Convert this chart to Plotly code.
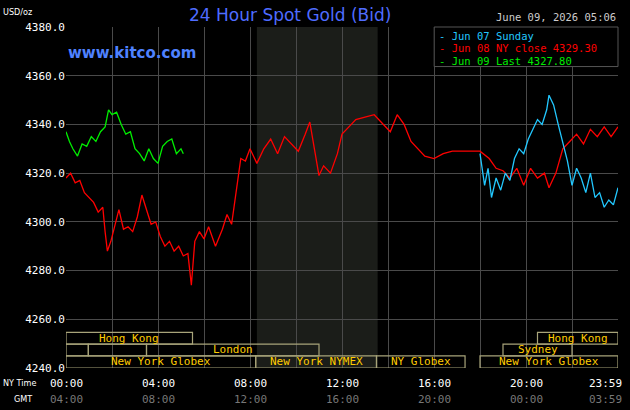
import plotly.graph_objects as go

# Jun 08 NY close (red), hours NY time
red_t = [0, 0.2, 0.4, 0.6, 0.8, 1.0, 1.2, 1.4, 1.6, 1.7, 1.8, 1.95, 2.1, 2.3, 2.5, 2.7, 2.9, 3.1, 3.3, 3.5, 3.7, 3.9,
         4.1, 4.3, 4.5, 4.7, 4.9, 5.1, 5.3, 5.45, 5.6, 5.8, 6.0, 6.2, 6.5, 6.8, 7.0, 7.2, 7.4, 7.6, 7.8, 8.0, 8.3,
         8.6, 8.9, 9.2, 9.5, 9.8, 10.1, 10.4, 10.6, 10.8, 11.0, 11.2, 11.5, 11.8, 12.0, 12.3, 12.6, 13.0, 13.4,
         13.8, 14.1, 14.4, 14.7, 15.0, 15.3, 15.6, 16.0, 16.4, 16.8, 17.2, 17.6, 18.0, 18.4, 18.7, 19.0, 19.3,
         19.6, 19.9, 20.2, 20.5, 20.8, 21.0, 21.3, 21.6, 21.9, 22.2, 22.5, 22.8, 23.1, 23.4, 23.7, 24.0]
red_v = [4318, 4320, 4316, 4317, 4312, 4310, 4308, 4304, 4306, 4296, 4288, 4292, 4298, 4305, 4297, 4298, 4296,
         4302, 4311, 4305, 4299, 4300, 4294, 4290, 4292, 4288, 4290, 4286, 4287, 4274, 4292, 4296, 4293, 4298,
         4290, 4297, 4303, 4299, 4312, 4326, 4325, 4330, 4324, 4330, 4334, 4328, 4335, 4332, 4329, 4336, 4341,
         4330, 4319, 4323, 4320, 4328, 4336, 4339, 4342, 4343, 4344, 4340, 4337, 4344, 4340, 4333, 4330, 4327,
         4326, 4328, 4329, 4329, 4329, 4329, 4326, 4322, 4321, 4318, 4322, 4315, 4322, 4318, 4320, 4314, 4320,
         4330, 4333, 4336, 4332, 4338, 4335, 4339, 4335, 4339]

# Jun 07 Sunday (cyan)
cyan_t = [18.0, 18.2, 18.35, 18.5, 18.7, 18.9, 19.1, 19.3, 19.5, 19.7, 19.9, 20.1, 20.3, 20.5, 20.7, 20.9, 21.0,
          21.2, 21.4, 21.6, 21.8, 22.0, 22.2, 22.4, 22.6, 22.8, 23.0, 23.2, 23.4, 23.6, 23.8, 24.0]
cyan_v = [4328, 4315, 4322, 4310, 4318, 4313, 4320, 4317, 4326, 4330, 4328, 4334, 4338, 4342, 4340, 4346, 4352,
          4348, 4340, 4333, 4325, 4315, 4322, 4318, 4312, 4320, 4310, 4312, 4306, 4309, 4307, 4314]

# Jun 09 Last (green)
green_t = [0, 0.15, 0.3, 0.5, 0.7, 0.9, 1.1, 1.3, 1.5, 1.7, 1.85, 2.0, 2.2, 2.4, 2.6, 2.8, 3.0, 3.2, 3.4, 3.6,
           3.8, 4.0, 4.2, 4.4, 4.6, 4.8, 5.0, 5.1]
green_v = [4337, 4333, 4330, 4327, 4332, 4331, 4335, 4333, 4337, 4339, 4346, 4344, 4345, 4340, 4336, 4337, 4330,
           4328, 4325, 4330, 4326, 4324, 4331, 4333, 4334, 4328, 4330, 4328]

# market sessions: (start h, end h, row, label)
sessions = [(0, 5.5, 2, "Hong Kong"), (20.5, 24, 2, "Hong Kong"),
            (0, 0.97, 1, ""), (0.97, 3.5, 1, ""), (3.5, 11, 1, "London"), (19, 22, 1, "Sydney"),
            (0, 8.25, 0, "New York Globex"), (8.25, 13.5, 0, "New York NYMEX"),
            (13.5, 17.35, 0, "NY Globex"), (18, 24, 0, "New York Globex")]
ny_labels = ["00:00", "04:00", "08:00", "12:00", "16:00", "20:00", "23:59"]
gmt_labels = ["04:00", "08:00", "12:00", "16:00", "20:00", "00:00", "03:59"]
label_pos = [0, 4, 8, 12, 16, 20, 24]

MONO = "DejaVu Sans Mono"
COND = "DejaVu Sans Condensed"
fig = go.Figure()
fig.add_trace(go.Scatter(x=red_t, y=red_v, mode="lines", line=dict(color="#ff0000", width=1.3)))
fig.add_trace(go.Scatter(x=cyan_t, y=cyan_v, mode="lines", line=dict(color="#22c8ff", width=1.3)))
fig.add_trace(go.Scatter(x=green_t, y=green_v, mode="lines", line=dict(color="#00ee00", width=1.3)))

shapes = [dict(type="rect", xref="x", yref="y", x0=8.3, x1=13.55, y0=4240, y1=4380,
               fillcolor="#1b1d19", line_width=0, layer="below")]
rows = [(4240, 4245), (4245, 4249.8), (4249.8, 4254.6)]
for s, e, r, lab in sessions:
    y0, y1 = rows[r]
    shapes.append(dict(type="rect", x0=s, x1=e, y0=y0, y1=y1, fillcolor="rgba(0,0,0,0)",
                       line=dict(color="#a8a47a", width=1.2)))
    if lab:
        fig.add_annotation(x=(s + e) / 2, y=(y0 + y1) / 2, text=lab, showarrow=False,
                           font=dict(family=MONO, size=11, color="#ffcc00"))
# legend box
shapes.append(dict(type="rect", xref="paper", yref="paper", x0=0.667, x1=1.0, y0=0.884, y1=1.0,
                   fillcolor="black", line=dict(color="#555555", width=1)))

legend = [("- Jun 07 Sunday", "#22c8ff"), ("- Jun 08 NY close 4329.30", "#ff0000"),
          ("- Jun 09 Last 4327.80", "#00ee00")]
for i, (txt, col) in enumerate(legend):
    fig.add_annotation(xref="paper", yref="paper", x=0.672, y=0.997 - i * 0.036, text=txt, showarrow=False,
                       xanchor="left", yanchor="top", font=dict(family=MONO, size=10.5, color=col))

for p, a, b in zip(label_pos, ny_labels, gmt_labels):
    fig.add_annotation(x=p, y=0, yref="paper", text=a, showarrow=False, yshift=-15, yanchor="middle",
                       xanchor="right" if p == 24 else "center", xshift=6 if p == 24 else 0,
                       font=dict(family=MONO, size=11, color="white"))
    fig.add_annotation(x=p, y=0, yref="paper", text=b, showarrow=False, yshift=-31, yanchor="middle",
                       xanchor="right" if p == 24 else "center", xshift=6 if p == 24 else 0,
                       font=dict(family=MONO, size=11, color="#777777"))

fig.add_annotation(xref="paper", yref="paper", x=-0.118, y=0, text="NY Time", showarrow=False, yshift=-15,
                   yanchor="middle", xanchor="left", font=dict(family=COND, size=9, color="white"))
fig.add_annotation(xref="paper", yref="paper", x=-0.098, y=0, text="GMT", showarrow=False, yshift=-31,
                   yanchor="middle", xanchor="left", font=dict(family=COND, size=9, color="white"))
fig.add_annotation(xref="paper", yref="paper", x=-0.118, y=1, text="USD/oz", showarrow=False, yshift=15,
                   yanchor="middle", xanchor="left", font=dict(family=COND, size=9, color="white"))
fig.add_annotation(xref="paper", yref="paper", x=0.405, y=1, text="24 Hour Spot Gold (Bid)", showarrow=False,
                   yshift=12, yanchor="middle", font=dict(family="DejaVu Sans", size=17, color="#4f6cff"))
fig.add_annotation(xref="paper", yref="paper", x=1.0, y=1, text="June 09, 2026 05:06", showarrow=False,
                   yshift=10, yanchor="middle", xanchor="right", font=dict(family=MONO, size=10.5, color="#cccccc"))
fig.add_annotation(xref="paper", yref="paper", x=0.0, y=0.955, text="<b>www.kitco.com</b>", showarrow=False,
                   xanchor="left", font=dict(family="DejaVu Sans", size=15, color="#4f82ff"))

fig.update_layout(width=630, height=410, paper_bgcolor="black", plot_bgcolor="black", showlegend=False,
                  margin=dict(l=66, r=12, t=27, b=42), shapes=shapes)
fig.update_xaxes(range=[0, 24], dtick=2, showgrid=True, gridcolor="#4a4a4a", showticklabels=False,
                 zeroline=False, showline=False)
fig.update_yaxes(range=[4240, 4380], dtick=20, showgrid=True, gridcolor="#4a4a4a", tickformat=".1f",
                 tickfont=dict(family=MONO, size=11, color="white"), zeroline=False, ticklen=0)
fig.write_html("out.html", config={"displayModeBar": False},
               post_script="document.body.style.margin='0';document.body.style.background='black';")
